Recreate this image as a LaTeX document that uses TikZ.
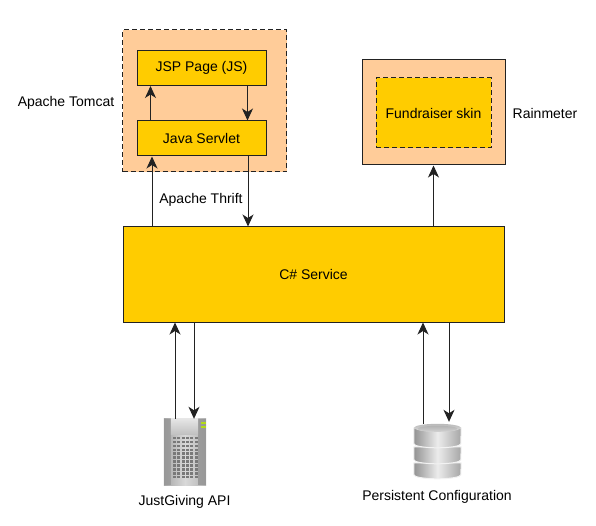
\documentclass[tikz,border=0pt]{standalone}
\usepackage{fontspec}
\setmainfont{Liberation Sans}
\usetikzlibrary{positioning}
\usetikzlibrary{calc}
\usetikzlibrary{arrows.meta}
\definecolor{boxyellow}{HTML}{FFCC00}
\definecolor{boxpeach}{HTML}{FFCC99}
\definecolor{linegrey}{HTML}{222222}
\tikzset{
 yellowbox/.style={draw=linegrey,fill=boxyellow,line width=1pt,inner sep=0pt,font=\fontsize{14}{16}\selectfont},
 peachbox/.style={draw=linegrey,fill=boxpeach,line width=1pt,inner sep=0pt},
 label/.style={inner sep=0pt,font=\fontsize{14}{16}\selectfont},
 flow/.style={draw=linegrey,line width=1pt,-{Stealth[length=12pt,width=11pt,inset=3.5pt]}},
 cut/.style={dash pattern=on 5pt off 3pt}
}
\begin{document}
\begin{tikzpicture}[x=1pt,y=-1pt]
\useasboundingbox (0,0) rectangle (596,526);
\node[peachbox,cut,minimum width=164,minimum height=142] (tomcat) at (204.5,101) {};
\node[yellowbox,minimum width=129,minimum height=35] (jsp) at (201.5,68) {\raisebox{-1pt}{JSP Page (JS)}};
\node[yellowbox,minimum width=129,minimum height=35] (servlet) at (201.5,138.5) {\raisebox{-1pt}{Java Servlet}};
\node[peachbox,minimum width=143,minimum height=105] (rainmeter) at (433.5,112.5) {};
\node[yellowbox,cut,minimum width=115,minimum height=70] (skin) at (433.5,113) {\raisebox{-1pt}{Fundraiser skin}};
\node[yellowbox,minimum width=381,minimum height=95] (service) at (313.5,274.5) {\raisebox{-1pt}{C\# Service}};
\node[label] (tomcatlabel) at (66,102.5) {Apache Tomcat};
\node[label] (rainlabel) at (545,113.5) {Rainmeter};
\node[label] (thrift) at (201,199.5) {Apache Thrift};
\node[label] (apilabel) at (184.5,501.5) {JustGiving API};
\node[label] (conflabel) at (437,497) {Persistent Configuration};
\node[inner sep=0pt,minimum width=42,minimum height=66] (server) at (185,452) {};
\node[inner sep=0pt,minimum width=47,minimum height=56] (store) at (437.5,452) {};
% server icon
\shade[left color=gray!70,right color=gray!60,middle color=gray!30] (server.north west) rectangle (server.south east);
\fill[gray!85,opacity=.7] (server.north west) rectangle ([xshift=7]server.south west);
\fill[gray!90,opacity=.7] ([xshift=-8]server.north east) rectangle (server.south east);
\shade[top color=gray!20,bottom color=gray!50] ([xshift=7]server.north west) rectangle ([xshift=-8,yshift=-16]server.north east);
\fill[yellow!70!green] ([xshift=-5,yshift=-3]server.north east) rectangle ([yshift=-5]server.north east);
\fill[yellow!70!green] ([xshift=-5,yshift=-7]server.north east) rectangle ([yshift=-9]server.north east);
\foreach \col in {0,...,5}
 \foreach \row in {0,...,10}
  \fill[gray!95!black] ($(server.north west)+(9+\col*4.4,18+\row*3.9)$) rectangle +(3,2.6);
% disc icon
\foreach \top/\high in {39/12,23/13,4/16}{
 \shade[left color=gray!85,right color=gray!70,middle color=gray!15,draw=gray!10,line width=1pt]
  ($(store.north west)+(0,\top)$) -- +(0,\high) arc[start angle=180,end angle=0,x radius=23.5,y radius=4]
  -- ($(store.north east)+(0,\top)$) -- cycle;
}
\shade[top color=gray!55,bottom color=gray!25] ($(store.north)+(0,4)$) ellipse[x radius=23.5,y radius=4];
\shade[top color=gray!60,bottom color=gray!35] ($(store.north)+(0,5)$) ellipse[x radius=20,y radius=3];
% connectors
\draw[flow] ([xshift=-51]servlet.north) -- ([xshift=-51]jsp.south);
\draw[flow] ([xshift=46]jsp.south) -- ([xshift=46]servlet.north);
\draw[flow] ([xshift=-49.5]service.north -| servlet.south) -- ([xshift=-49.5]servlet.south);
\draw[flow] ([xshift=46.5]servlet.south) -- ([xshift=46.5]service.north -| servlet.south);
\draw[flow] (service.north -| rainmeter.south) -- (rainmeter.south);
\draw[flow] ([xshift=-10]server.north) -- ([xshift=-10]service.south -| server.north);
\draw[flow] ([xshift=9]service.south -| server.north) -- ([xshift=9]server.north);
\draw[flow] ([xshift=-14.5]store.north) -- ([xshift=-14.5]service.south -| store.north);
\draw[flow] ([xshift=11.5]service.south -| store.north) -- ([xshift=11.5,yshift=2]store.north);
\end{tikzpicture}
\end{document}
